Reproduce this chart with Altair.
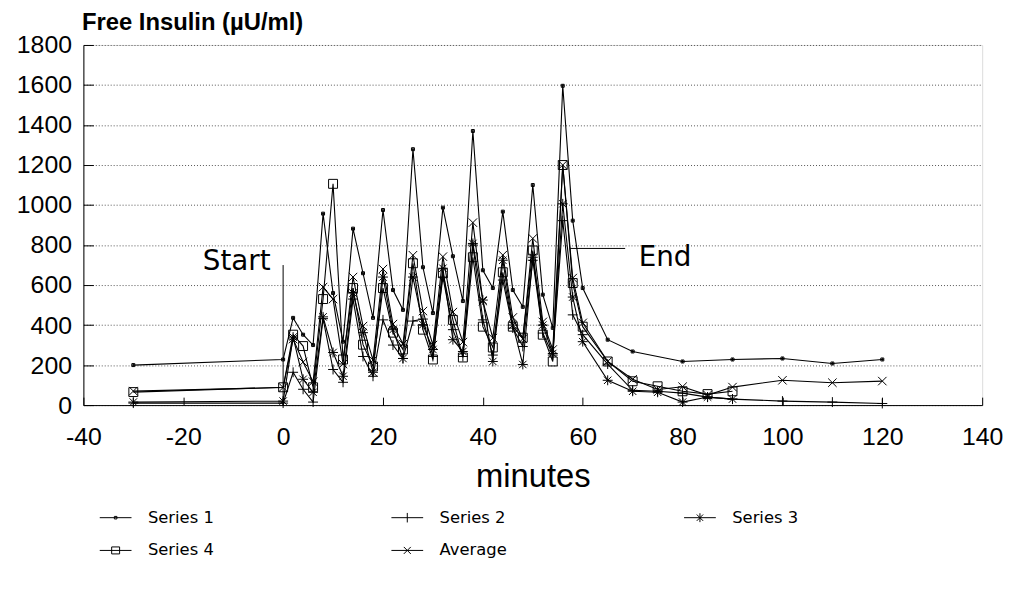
import altair as alt
import pandas as pd

FONT = "DejaVu Sans"
W, H = 906, 363

series_names = ["Series 1", "Series 2", "Series 3", "Series 4", "Average"]

core_t = [-30, 0, 2, 4, 6, 8, 10, 12, 14, 16, 18, 20, 22, 24, 26, 28, 30,
          32, 34, 36, 38, 40, 42, 44, 46, 48, 50, 52, 54, 56, 58, 60]

s1_t = core_t + [65, 70, 80, 90, 100, 110, 120]
s1_v = [200, 228, 436, 352, 300, 957, 560, 317, 882, 659, 436, 975, 575, 476,
        1279, 689, 460, 987, 744, 520, 1370, 674, 585, 967, 575, 491, 1100,
        552, 386, 1596, 922, 585, 327, 268, 218, 228, 233, 208, 228]

s2_t = core_t + [65, 70, 75, 80, 85, 90, 100, 110, 120]
s2_v = [10, 10, 164, 79, 15, 432, 178, 114, 530, 243, 144, 426, 300, 233,
        420, 430, 243, 640, 377, 243, 800, 426, 250, 625, 385, 293, 724,
        360, 250, 922, 451, 352, 205, 74, 69, 60, 40, 30, 20, 15, 8]

s3_t = core_t + [65, 70, 75, 80, 85, 90]
s3_v = [15, 20, 340, 129, 64, 441, 263, 144, 560, 362, 164, 640, 377, 233,
        640, 402, 278, 684, 327, 268, 808, 525, 218, 724, 400, 203, 739,
        400, 258, 1006, 540, 317, 124, 69, 64, 15, 40, 30]

s4_t = core_t + [65, 70, 75, 80, 85, 90]
s4_v = [65, 89, 352, 295, 89, 530, 1106, 228, 585, 302, 193, 585, 362, 278,
        709, 377, 228, 659, 426, 238, 739, 392, 288, 664, 392, 337, 773,
        352, 218, 1200, 610, 392, 218, 119, 94, 69, 55, 69]

avg_t = core_t + [65, 70, 75, 80, 85, 90, 100, 110, 120]
avg_v = [70, 88, 330, 215, 117, 590, 530, 205, 640, 395, 225, 680, 405, 305,
         749, 470, 300, 742, 465, 315, 912, 520, 335, 750, 438, 331, 833,
         416, 278, 1200, 635, 411, 218, 129, 78, 92, 50, 90, 124, 112, 120]

x_ticks = [-40, -20, 0, 20, 40, 60, 80, 100, 120, 140]
y_ticks = [0, 200, 400, 600, 800, 1000, 1200, 1400, 1600, 1800]

# annotations
start_t, start_bottom, start_top = [0], [0], [700]
start_label_t, start_label_v = [-2.5], [714]
end_line_t1, end_line_t2, end_line_v = [57.5], [68.5], [783]
end_label_t, end_label_v = [71.2], [734]

rows = []
for name, ts, vs in [("Series 1", s1_t, s1_v), ("Series 2", s2_t, s2_v),
                     ("Series 3", s3_t, s3_v), ("Series 4", s4_t, s4_v),
                     ("Average", avg_t, avg_v)]:
    for t, v in zip(ts, vs):
        rows.append({"series": name, "t": t, "v": v})
df = pd.DataFrame(rows)

marker_paths = [
    "M-0.3,-0.3H0.3V0.3H-0.3Z M-0.3,0H0.3 M0,-0.3V0.3",
    "M-1,0H1M0,-1V1",
    "M-1,0H1M0,-1V1M-0.75,-0.75L0.75,0.75M-0.75,0.75L0.75,-0.75",
    "M-0.9,-0.9H0.9V0.9H-0.9Z",
    "M-0.85,-0.85L0.85,0.85M-0.85,0.85L0.85,-0.85",
]
legend_paths = [
    "M-1,0H1M-0.08,-0.08H0.08V0.08H-0.08Z",
    "M-1,0H1M0,-0.3V0.3",
    "M-1,0H1M0,-0.28V0.28M-0.2,-0.2L0.2,0.2M-0.2,0.2L0.2,-0.2",
    "M-1,0H1M-0.25,-0.22H0.25V0.22H-0.25Z",
    "M-1,0H1M-0.22,-0.22L0.22,0.22M-0.22,0.22L0.22,-0.22",
]

xs = alt.Scale(domain=[-40, 140], nice=False, zero=False)
ys = alt.Scale(domain=[0, 1800], nice=False)

base = alt.Chart(df)

lines = base.mark_line(color="black", strokeWidth=1.1).encode(
    x=alt.X("t:Q", scale=xs, axis=alt.Axis(
        values=x_ticks, ticks=False, tickSize=0, labelPadding=20,
        labelFontSize=25, labelColor="black", labelFlush=False,
        labelOverlap=False, labelExpr="datum.value + ''",
        domainColor="black", grid=False,
        title="minutes", titleFontSize=33, titleFontWeight="normal",
        titleColor="black", titleY=82, titleBaseline="alphabetic")),
    y=alt.Y("v:Q", scale=ys, axis=alt.Axis(
        values=y_ticks, ticks=False, tickSize=0, labelPadding=12,
        labelFontSize=25, labelColor="black", labelOverlap=False,
        labelExpr="datum.value + ''",
        domainColor="black", grid=True, gridColor="#555",
        gridDash=[1, 2], gridWidth=1,
        title="Free Insulin (µU/ml)", titleAngle=0, titleAlign="left",
        titleBaseline="alphabetic", titleX=-2, titleY=-16,
        titleFontSize=24, titleFontWeight="bold", titleColor="black")),
    detail="series:N",
    order="t:Q",
)

points = base.mark_point(filled=False, color="black", strokeWidth=1,
                         size=100, opacity=1).encode(
    x=alt.X("t:Q", scale=xs, title=None, axis=alt.Axis(
        orient="top", offset=-H, labels=False, domain=False, grid=False,
        tickSize=8, tickColor="black", values=x_ticks)),
    y=alt.Y("v:Q", scale=ys, title=None, axis=alt.Axis(
        orient="right", offset=-W, labels=False, domain=False, grid=False,
        tickSize=10, tickColor="black", values=y_ticks)),
    shape=alt.Shape("series:N", scale=alt.Scale(domain=series_names,
                                                range=marker_paths),
                    legend=None),
)

legend_layer = base.transform_filter("datum.t > 100000").mark_point(
    filled=False, color="black", strokeWidth=1, opacity=1).encode(
    x=alt.X("t:Q", scale=xs, axis=None),
    y=alt.Y("v:Q", scale=ys, axis=None),
    shape=alt.Shape("series:N", scale=alt.Scale(domain=series_names,
                                                range=legend_paths),
                    legend=alt.Legend(
                        orient="none", legendX=16, legendY=460, columns=3,
                        direction="horizontal",
                        title=None, symbolSize=1024, symbolStrokeWidth=1,
                        symbolStrokeColor="black", labelFont=FONT,
                        labelFontSize=16.5, labelColor="black",
                        labelOffset=16, columnPadding=176, rowPadding=8,
                        padding=0, offset=0)),
)

start_df = pd.DataFrame({"t": start_t, "v": start_bottom, "v2": start_top})
start_rule = alt.Chart(start_df).mark_rule(color="black", strokeWidth=1).encode(
    x=alt.X("t:Q", scale=xs, axis=None),
    y=alt.Y("v:Q", scale=ys, axis=None),
    y2="v2:Q",
)

end_df = pd.DataFrame({"t": end_line_t1, "t2": end_line_t2, "v": end_line_v})
end_rule = alt.Chart(end_df).mark_rule(color="black", strokeWidth=1).encode(
    x=alt.X("t:Q", scale=xs, axis=None),
    x2="t2:Q",
    y=alt.Y("v:Q", scale=ys, axis=None),
)

start_txt_df = pd.DataFrame({"t": start_label_t, "v": start_label_v,
                             "label": ["Start"]})
start_text = alt.Chart(start_txt_df).mark_text(
    align="right", baseline="middle", fontSize=28, font=FONT,
    color="black").encode(
    x=alt.X("t:Q", scale=xs, axis=None),
    y=alt.Y("v:Q", scale=ys, axis=None),
    text="label:N",
)

end_txt_df = pd.DataFrame({"t": end_label_t, "v": end_label_v,
                           "label": ["End"]})
end_text = alt.Chart(end_txt_df).mark_text(
    align="left", baseline="middle", fontSize=28, font=FONT,
    color="black").encode(
    x=alt.X("t:Q", scale=xs, axis=None),
    y=alt.Y("v:Q", scale=ys, axis=None),
    text="label:N",
)

chart = alt.layer(
    lines, points, legend_layer, start_rule, end_rule, start_text, end_text
).resolve_scale(
    shape="independent"
).resolve_axis(
    x="independent", y="independent"
).properties(
    width=W, height=H,
    autosize=alt.AutoSizeParams(type="none"),
    padding={"left": 76, "top": 35, "right": 22, "bottom": 170},
).configure_view(
    stroke="black", strokeWidth=1
).configure_axis(
    labelFont=FONT, titleFont=FONT
).configure_text(
    font=FONT
).configure_legend(
    labelFont=FONT
).configure(background="white")

chart.save("out.html", embed_options={"renderer": "svg", "actions": False})
